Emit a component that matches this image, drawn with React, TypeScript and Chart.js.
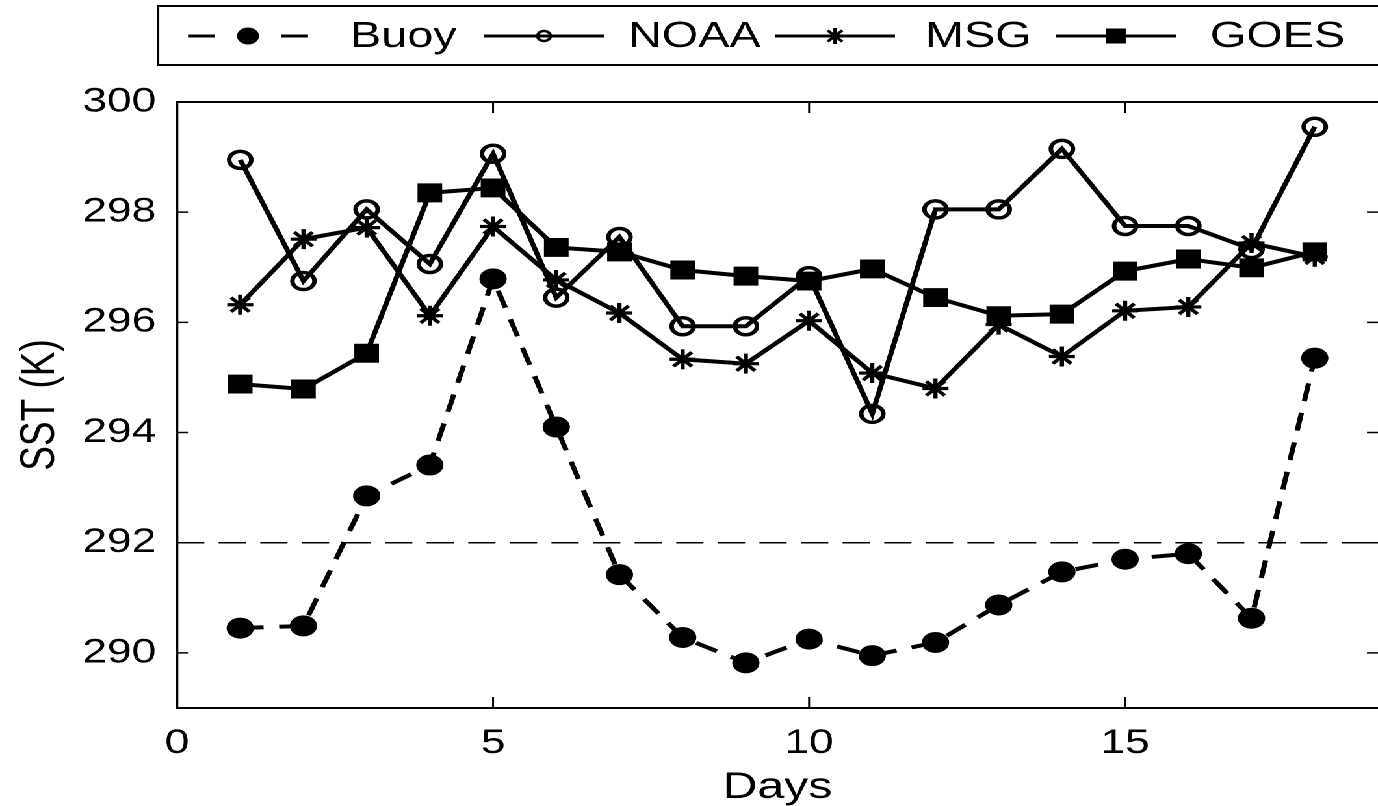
import React, { useEffect, useRef } from "react";
import { Chart, registerables } from "chart.js";

Chart.register(...registerables);

// ---- data ----
const days = [1, 2, 3, 4, 5, 6, 7, 8, 9, 10, 11, 12, 13, 14, 15, 16, 17, 18];
const buoy = [290.45, 290.49, 292.85, 293.41, 296.79, 294.1, 291.42, 290.28, 289.82, 290.25, 289.95, 290.19, 290.87, 291.47, 291.7, 291.8, 290.63, 295.35];
const noaa = [298.95, 296.75, 298.05, 297.06, 299.06, 296.45, 297.55, 295.93, 295.93, 296.84, 294.34, 298.05, 298.05, 299.15, 297.75, 297.75, 297.33, 299.55];
const msg = [296.32, 297.51, 297.72, 296.12, 297.74, 296.77, 296.17, 295.33, 295.25, 296.03, 295.08, 294.8, 295.96, 295.38, 296.21, 296.28, 297.44, 297.19];
const goes = [294.88, 294.79, 295.44, 298.35, 298.44, 297.36, 297.28, 296.95, 296.84, 296.75, 296.97, 296.45, 296.12, 296.15, 296.93, 297.15, 296.99, 297.28];
const threshold = 292;
const xTicks = [0, 5, 10, 15];
const yTicks = [290, 292, 294, 296, 298, 300];
const seriesLabels = ["Buoy", "NOAA", "MSG", "GOES"];

// ---- layout / style ----
const STRETCH = 1.3;
const OUT_W = 1378;
const OUT_H = 806;
const W = Math.round(OUT_W / STRETCH);
const H = OUT_H;
const FONT = "'Liberation Sans', Arial, Helvetica, sans-serif";
const TICK_FONT = 34;
const TITLE_FONT = 37;
const LEGEND_FONT = 36;

function drawMarker(ctx: CanvasRenderingContext2D, style: string, x: number, y: number, r: number, lw: number) {
  ctx.save();
  ctx.fillStyle = "#000";
  ctx.strokeStyle = "#000";
  ctx.lineWidth = lw;
  ctx.setLineDash([]);
  ctx.beginPath();
  if (style === "dot") {
    ctx.arc(x, y, r, 0, Math.PI * 2);
    ctx.fill();
  } else if (style === "ring") {
    ctx.arc(x, y, r, 0, Math.PI * 2);
    ctx.stroke();
  } else if (style === "star") {
    for (let k = 0; k < 4; k++) {
      const a = (k * Math.PI) / 4;
      ctx.moveTo(x - Math.cos(a) * r, y - Math.sin(a) * r);
      ctx.lineTo(x + Math.cos(a) * r, y + Math.sin(a) * r);
    }
    ctx.stroke();
  } else if (style === "square") {
    ctx.rect(x - r, y - r, 2 * r, 2 * r);
    ctx.fill();
  }
  ctx.restore();
}

const framePlugin = {
  id: "matlabFrame",
  beforeDatasetsDraw(chart: any) {
    const { ctx, chartArea } = chart;
    const yScale = chart.scales.y;
    const yy = yScale.getPixelForValue(threshold);
    ctx.save();
    ctx.strokeStyle = "#000";
    ctx.lineWidth = 1.5;
    ctx.setLineDash([21, 11]);
    ctx.beginPath();
    ctx.moveTo(chartArea.left, yy);
    ctx.lineTo(chartArea.right, yy);
    ctx.stroke();
    ctx.restore();
  },
  afterDraw(chart: any) {
    const { ctx, chartArea } = chart;
    const { left, right, top, bottom } = chartArea;
    const xs = chart.scales.x;
    const ys = chart.scales.y;
    ctx.save();
    ctx.strokeStyle = "#000";
    ctx.lineWidth = 2;
    ctx.setLineDash([]);
    ctx.beginPath();
    ctx.moveTo(right + 2, top);
    ctx.lineTo(left, top);
    ctx.lineTo(left, bottom);
    ctx.lineTo(right + 2, bottom);
    ctx.stroke();
    ctx.lineWidth = 1.5;
    const tlx = 11;
    const tly = 11 / STRETCH;
    ctx.beginPath();
    xTicks.forEach((v) => {
      const px = xs.getPixelForValue(v);
      ctx.moveTo(px, bottom);
      ctx.lineTo(px, bottom - tlx);
      ctx.moveTo(px, top);
      ctx.lineTo(px, top + tlx);
    });
    yTicks.forEach((v) => {
      const py = ys.getPixelForValue(v);
      ctx.moveTo(left, py);
      ctx.lineTo(left + tly, py);
      ctx.moveTo(right, py);
      ctx.lineTo(right - tly, py);
    });
    ctx.stroke();

    // legend
    const bx = 158 / STRETCH;
    const by = 6;
    const bh = 59;
    ctx.lineWidth = 2;
    ctx.beginPath();
    ctx.moveTo(W + 5, by);
    ctx.lineTo(bx, by);
    ctx.lineTo(bx, by + bh);
    ctx.lineTo(W + 5, by + bh);
    ctx.stroke();
    const cy = 36;
    const centers = [248, 544, 835, 1116].map((v) => v / STRETCH);
    const textX = [350, 628, 925, 1210].map((v) => v / STRETCH);
    const half = 60 / STRETCH;
    ctx.lineWidth = 3;
    seriesLabels.forEach((lab, i) => {
      const c = centers[i];
      ctx.beginPath();
      if (i === 0) {
        const dl = 27 / STRETCH;
        ctx.moveTo(c - half, cy);
        ctx.lineTo(c - half + dl, cy);
        ctx.moveTo(c + half - dl, cy);
        ctx.lineTo(c + half, cy);
      } else {
        ctx.moveTo(c - half, cy);
        ctx.lineTo(c + half, cy);
      }
      ctx.stroke();
      if (i === 0) drawMarker(ctx, "dot", c, cy, 8.5, 1);
      if (i === 1) drawMarker(ctx, "ring", c, cy, 5, 2.5);
      if (i === 2) drawMarker(ctx, "star", c, cy, 8, 2.5);
      if (i === 3) drawMarker(ctx, "square", c, cy, 7.5, 1);
      ctx.fillStyle = "#000";
      ctx.font = `${LEGEND_FONT}px ${FONT}`;
      ctx.textAlign = "left";
      ctx.textBaseline = "middle";
      ctx.fillText(lab, textX[i], cy + 1);
    });
    ctx.restore();
  },
};

function pts(vals: number[]) {
  return days.map((d, i) => ({ x: d, y: vals[i] }));
}

export default function App() {
  const ref = useRef<HTMLCanvasElement | null>(null);
  useEffect(() => {
    document.body.style.margin = "0";
    const canvas = ref.current;
    if (!canvas) return;
    const common = { borderColor: "#000", borderWidth: 4, tension: 0, pointBorderColor: "#000" };
    const chart = new Chart(canvas, {
      type: "line",
      data: {
        datasets: [
          { ...common, label: seriesLabels[0], data: pts(buoy), borderDash: [18, 12], pointStyle: "circle", pointRadius: 10, pointBackgroundColor: "#000", pointBorderWidth: 1 },
          { ...common, label: seriesLabels[1], data: pts(noaa), pointStyle: "circle", pointRadius: 8.5, pointBackgroundColor: "rgba(0,0,0,0)", pointBorderWidth: 3.5 },
          { ...common, label: seriesLabels[2], data: pts(msg), pointStyle: "star", pointRadius: 10, pointBackgroundColor: "#000", pointBorderWidth: 3.2 },
          { ...common, label: seriesLabels[3], data: pts(goes), pointStyle: "rect", pointRadius: 12.7, pointBackgroundColor: "#000", pointBorderWidth: 1 },
        ],
      } as any,
      options: {
        responsive: false,
        animation: false,
        devicePixelRatio: 2,
        layout: { autoPadding: false, padding: { top: 102, left: 0, right: 0, bottom: 0 } },
        plugins: { legend: { display: false }, tooltip: { enabled: false } },
        elements: { point: { hoverRadius: 0 } },
        scales: {
          x: {
            type: "linear",
            min: 0,
            max: 19,
            afterBuildTicks: (s: any) => {
              s.ticks = xTicks.map((v) => ({ value: v }));
            },
            afterFit: (s: any) => {
              s.height = 98;
              s.paddingLeft = 0;
              s.paddingRight = 0;
            },
            grid: { display: false, drawTicks: false },
            border: { display: false },
            ticks: { color: "#000", font: { family: FONT, size: TICK_FONT }, padding: 15, maxRotation: 0 },
            title: { display: true, text: "Days", color: "#000", font: { family: FONT, size: TITLE_FONT }, padding: { top: 0, bottom: -4 } },
          },
          y: {
            type: "linear",
            min: 289,
            max: 300,
            afterBuildTicks: (s: any) => {
              s.ticks = yTicks.map((v) => ({ value: v }));
            },
            afterFit: (s: any) => {
              s.width = 177 / STRETCH;
              s.paddingTop = 0;
              s.paddingBottom = 0;
            },
            grid: { display: false, drawTicks: false },
            border: { display: false },
            ticks: { color: "#000", font: { family: FONT, size: TICK_FONT }, padding: 16 },
            title: { display: true, text: "SST (K)", color: "#000", font: { family: FONT, size: TITLE_FONT }, padding: { top: 9, bottom: 0 } },
          },
        },
      } as any,
      plugins: [framePlugin],
    });
    return () => chart.destroy();
  }, []);
  return (
    <div
      style={{
        position: "fixed",
        left: 0,
        top: 0,
        width: W,
        height: H,
        transform: `scaleX(${OUT_W / W})`,
        transformOrigin: "0 0",
        background: "#fff",
      }}
    >
      <canvas ref={ref} width={W} height={H} style={{ width: W, height: H, display: "block" }} />
    </div>
  );
}
